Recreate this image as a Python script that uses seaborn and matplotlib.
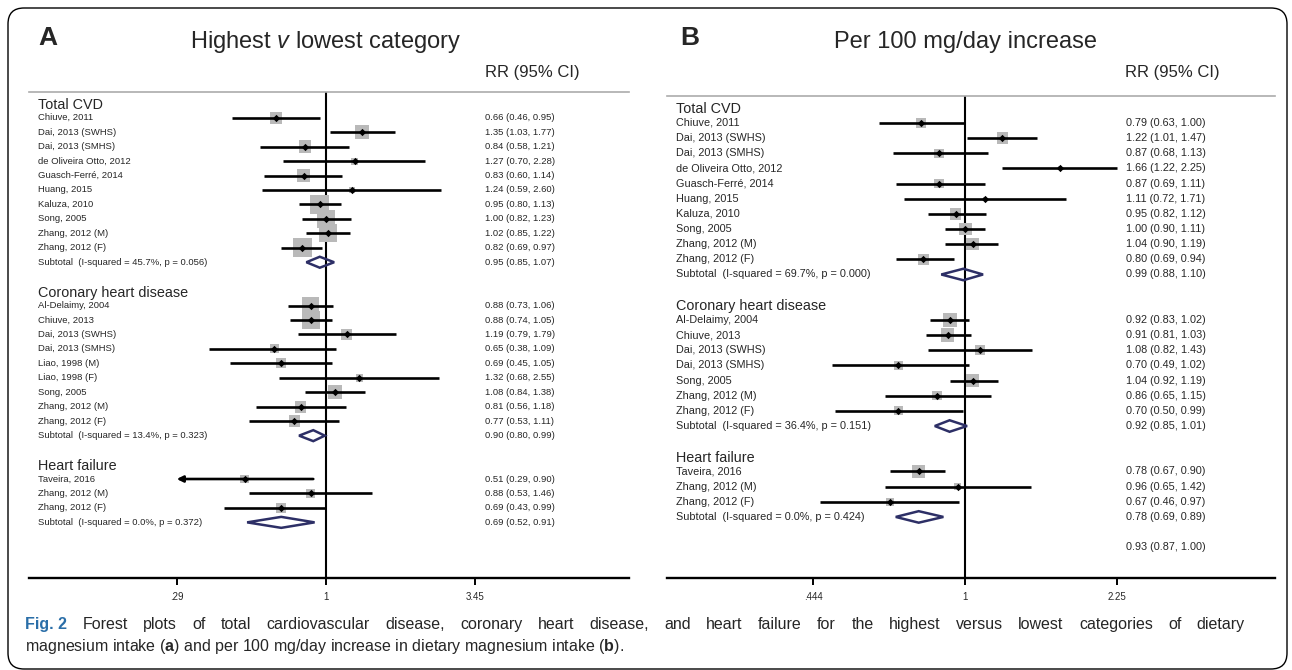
import numpy as np
import pandas as pd
import seaborn as sns
import matplotlib.pyplot as plt
from matplotlib import patches, transforms
from matplotlib.ticker import NullLocator

# ---- Panel A: highest v lowest category ----
a_cvd_study = ["Chiuve, 2011", "Dai, 2013 (SWHS)", "Dai, 2013 (SMHS)", "de Oliveira Otto, 2012",
               "Guasch-Ferré, 2014", "Huang, 2015", "Kaluza, 2010", "Song, 2005",
               "Zhang, 2012 (M)", "Zhang, 2012 (F)"]
a_cvd_rr = [0.66, 1.35, 0.84, 1.27, 0.83, 1.24, 0.95, 1.00, 1.02, 0.82]
a_cvd_lo = [0.46, 1.03, 0.58, 0.70, 0.60, 0.59, 0.80, 0.82, 0.85, 0.69]
a_cvd_hi = [0.95, 1.77, 1.21, 2.28, 1.14, 2.60, 1.13, 1.23, 1.22, 0.97]
a_cvd_w = [6.4, 9.3, 7.3, 2.3, 8.0, 2.1, 17.1, 15.3, 15.3, 17.1]
a_cvd_sub = [0.95, 0.85, 1.07, 45.7, 0.056]

a_chd_study = ["Al-Delaimy, 2004", "Chiuve, 2013", "Dai, 2013 (SWHS)", "Dai, 2013 (SMHS)",
               "Liao, 1998 (M)", "Liao, 1998 (F)", "Song, 2005", "Zhang, 2012 (M)", "Zhang, 2012 (F)"]
a_chd_rr = [0.88, 0.88, 1.19, 0.65, 0.69, 1.32, 1.08, 0.81, 0.77]
a_chd_lo = [0.73, 0.74, 0.79, 0.38, 0.45, 0.68, 0.84, 0.56, 0.53]
a_chd_hi = [1.06, 1.05, 1.79, 1.09, 1.05, 2.55, 1.38, 1.18, 1.11]
a_chd_w = [13.7, 15.3, 5.7, 3.8, 4.7, 2.6, 9.3, 6.4, 6.4]
a_chd_sub = [0.90, 0.80, 0.99, 13.4, 0.323]

a_hf_study = ["Taveira, 2016", "Zhang, 2012 (M)", "Zhang, 2012 (F)"]
a_hf_rr = [0.51, 0.88, 0.69]
a_hf_lo = [0.29, 0.53, 0.43]
a_hf_hi = [0.90, 1.46, 0.99]
a_hf_w = [3.8, 3.8, 4.7]
a_hf_sub = [0.69, 0.52, 0.91, 0.0, 0.372]

a_ticks = [0.29, 1, 3.45]
a_ticklabels = [".29", "1", "3.45"]

# ---- Panel B: per 100 mg/day increase ----
b_cvd_study = a_cvd_study
b_cvd_rr = [0.79, 1.22, 0.87, 1.66, 0.87, 1.11, 0.95, 1.00, 1.04, 0.80]
b_cvd_lo = [0.63, 1.01, 0.68, 1.22, 0.69, 0.72, 0.82, 0.90, 0.90, 0.69]
b_cvd_hi = [1.00, 1.47, 1.13, 2.25, 1.11, 1.71, 1.12, 1.11, 1.19, 0.94]
b_cvd_w = [9.9, 11.7, 7.8, 1.4, 7.8, 1.4, 11.7, 14.3, 13.4, 11.7]
b_cvd_sub = [0.99, 0.88, 1.10, 69.7, 0.000]

b_chd_study = ["Al-Delaimy, 2004", "Chiuve, 2013", "Dai, 2013 (SWHS)", "Dai, 2013 (SMHS)",
               "Song, 2005", "Zhang, 2012 (M)", "Zhang, 2012 (F)"]
b_chd_rr = [0.92, 0.91, 1.08, 0.70, 1.04, 0.86, 0.70]
b_chd_lo = [0.83, 0.81, 0.82, 0.49, 0.92, 0.65, 0.50]
b_chd_hi = [1.02, 1.03, 1.43, 1.02, 1.19, 1.15, 0.99]
b_chd_w = [17.4, 16.1, 8.9, 7.2, 14.3, 7.8, 7.2]
b_chd_sub = [0.92, 0.85, 1.01, 36.4, 0.151]

b_hf_study = ["Taveira, 2016", "Zhang, 2012 (M)", "Zhang, 2012 (F)"]
b_hf_rr = [0.78, 0.96, 0.67]
b_hf_lo = [0.67, 0.65, 0.46]
b_hf_hi = [0.90, 1.42, 0.97]
b_hf_w = [15.0, 4.3, 5.7]
b_hf_sub = [0.78, 0.69, 0.89, 0.0, 0.424]

b_overall = [0.93, 0.87, 1.00]

b_ticks = [0.444, 1, 2.25]
b_ticklabels = [".444", "1", "2.25"]

groups = ["Total CVD", "Coronary heart disease", "Heart failure"]

caption_1 = ("Forest plots of total cardiovascular disease, coronary heart disease, and heart failure "
             "for the highest versus lowest categories of dietary")
caption_2 = "magnesium intake ($\\mathbf{a}$) and per 100 mg/day increase in dietary magnesium intake ($\\mathbf{b}$)."

BOX = "#b9b9b9"
NAVY = "#2d2f66"


def build_rows(group_data, overall=None):
    rows = []
    r = 0
    for name, (study, rr, lo, hi, w, sub) in zip(groups, group_data):
        rows.append(dict(kind="header", row=r, label=name))
        r += 1
        for s, a, b, c, d in zip(study, rr, lo, hi, w):
            rows.append(dict(kind="study", row=r, label=s, rr=a, lo=b, hi=c, w=d))
            r += 1
        lab = f"Subtotal  (I-squared = {sub[3]:.1f}%, p = {sub[4]:.3f})"
        rows.append(dict(kind="sub", row=r, label=lab, rr=sub[0], lo=sub[1], hi=sub[2]))
        r += 2
    if overall is not None:
        rows.append(dict(kind="overall", row=r, label="", rr=overall[0], lo=overall[1], hi=overall[2]))
    return pd.DataFrame(rows)


def draw_panel(ax, df, xlim, ybottom, ticks, ticklabels, fs, size_k, rr_x):
    ax.set_xscale("log")
    st = df[df.kind == "study"]
    # weighted boxes
    sns.scatterplot(data=st, x="rr", y="row", size="w", sizes=(0, 100 * size_k), size_norm=(0, 100),
                    marker="s", color=BOX, linewidth=0, legend=False, ax=ax, zorder=2)
    for _, r in st.iterrows():
        if r.lo <= ticks[0]:
            ax.annotate("", xy=(ticks[0], r.row), xytext=(r.hi, r.row),
                        arrowprops=dict(arrowstyle="-|>", color="black", lw=1.9,
                                        mutation_scale=9, shrinkA=0, shrinkB=0), zorder=3)
        else:
            ax.hlines(r.row, r.lo, r.hi, color="black", lw=1.9, zorder=3)
    sns.scatterplot(data=st, x="rr", y="row", marker="D", s=14, color="black", linewidth=0,
                    legend=False, ax=ax, zorder=4)

    # subtotal diamonds
    for _, r in df[df.kind == "sub"].iterrows():
        ax.fill([r.lo, r.rr, r.hi, r.rr, r.lo], [r.row, r.row - 0.38, r.row, r.row + 0.38, r.row],
                facecolor="none", edgecolor=NAVY, lw=1.8, zorder=5)

    ax.axvline(1, color="black", lw=1.5, zorder=1)
    ax.set_xlim(*xlim)
    ax.set_ylim(ybottom, -0.78)

    trans = transforms.blended_transform_factory(ax.transAxes, ax.transData)
    for _, r in df.iterrows():
        if r.kind == "header":
            ax.text(0.0145, r.row + 0.1, r.label, transform=trans, fontsize=10.4, va="center")
        else:
            if r.label:
                ax.text(0.0145, r.row, r.label, transform=trans, fontsize=fs, va="center")
            ax.text(rr_x, r.row, f"{r.rr:.2f} ({r.lo:.2f}, {r.hi:.2f})", transform=trans,
                    fontsize=fs, va="center")

    ax.set_xticks(ticks)
    ax.set_xticklabels(ticklabels)
    ax.xaxis.set_minor_locator(NullLocator())
    ax.set_yticks([])
    ax.set_xlabel("")
    ax.set_ylabel("")
    ax.tick_params(axis="x", bottom=True, direction="out", length=5, width=1.4,
                   labelsize=7, pad=5, color="black")
    for side in ["left", "right"]:
        ax.spines[side].set_visible(False)
    ax.spines["top"].set_color("#ababab")
    ax.spines["top"].set_linewidth(1.2)
    ax.spines["bottom"].set_color("black")
    ax.spines["bottom"].set_linewidth(1.7)
    ax.set_facecolor("none")


sns.set_theme(style="white")
plt.rcParams["font.family"] = ["Liberation Sans", "DejaVu Sans"]
plt.rcParams["mathtext.fontset"] = "custom"
plt.rcParams["mathtext.rm"] = "Liberation Sans"
plt.rcParams["mathtext.it"] = "Liberation Sans:italic"
plt.rcParams["mathtext.bf"] = "Liberation Sans:bold"

df_a = build_rows([
    (a_cvd_study, a_cvd_rr, a_cvd_lo, a_cvd_hi, a_cvd_w, a_cvd_sub),
    (a_chd_study, a_chd_rr, a_chd_lo, a_chd_hi, a_chd_w, a_chd_sub),
    (a_hf_study, a_hf_rr, a_hf_lo, a_hf_hi, a_hf_w, a_hf_sub),
])
df_b = build_rows([
    (b_cvd_study, b_cvd_rr, b_cvd_lo, b_cvd_hi, b_cvd_w, b_cvd_sub),
    (b_chd_study, b_chd_rr, b_chd_lo, b_chd_hi, b_chd_w, b_chd_sub),
    (b_hf_study, b_hf_rr, b_hf_lo, b_hf_hi, b_hf_w, b_hf_sub),
], overall=b_overall)

W, H = 1292, 670
fig = plt.figure(figsize=(W / 100, H / 100), dpi=100)
fig.patch.set_facecolor("white")

ax_a = fig.add_axes([29 / W, 1 - 578 / H, 599.6 / W, 486 / H])
ax_b = fig.add_axes([667.2 / W, 1 - 578.3 / H, 607.3 / W, 482.3 / H])

draw_panel(ax_a, df_a, (0.0852, 12.3), 32.85, a_ticks, a_ticklabels, 6.8, 10.97, 0.7605)
draw_panel(ax_b, df_b, (0.2035, 5.22), 31.05, b_ticks, b_ticklabels, 7.8, 5.85, 0.7558)

# panel headings
fig.text(38 / W, 1 - 45 / H, "A", fontsize=19, fontweight="bold", va="baseline")
fig.text(326 / W, 1 - 48 / H, "Highest $\\mathit{v}$ lowest category", fontsize=17, ha="center", va="baseline")
fig.text(485 / W, 1 - 77 / H, "RR (95% CI)", fontsize=12, va="baseline")
fig.text(680 / W, 1 - 45 / H, "B", fontsize=19, fontweight="bold", va="baseline")
fig.text(965 / W, 1 - 48 / H, "Per 100 mg/day increase", fontsize=17, ha="center", va="baseline")
fig.text(1125 / W, 1 - 77 / H, "RR (95% CI)", fontsize=12, va="baseline")

# caption: first line is justified between x0 and x1
cap_fs = 11.5
x0, x1 = 25, 1245
words = [fig.text(0, 1 - 629 / H, "Fig. 2", fontsize=cap_fs, fontweight="bold", color="#2a6ea8",
                  va="baseline")]
for wd in caption_1.split():
    words.append(fig.text(0, 1 - 629 / H, wd, fontsize=cap_fs, va="baseline"))
fig.canvas.draw()
renderer = fig.canvas.get_renderer()
widths = [t.get_window_extent(renderer).width for t in words]
gap = (x1 - x0 - sum(widths)) / (len(words) - 1)
x = x0
for t, wd in zip(words, widths):
    t.set_x(x / W)
    x += wd + gap
fig.text(x0 / W, 1 - 651 / H, caption_2, fontsize=cap_fs, va="baseline")

frame = patches.FancyBboxPatch((8, 1), 1279, 661, boxstyle="round,pad=0,rounding_size=16",
                               transform=None, fill=False, edgecolor="black", lw=1.0)
fig.add_artist(frame)

fig.savefig("out.png", dpi=100)
